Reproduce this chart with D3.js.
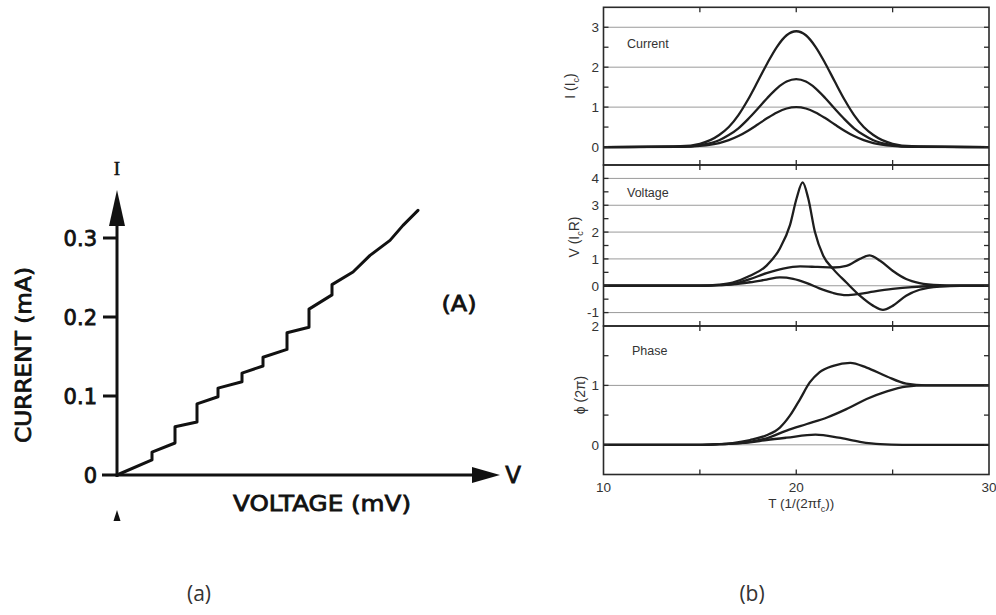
<!DOCTYPE html>
<html>
<head>
<meta charset="utf-8">
<script src="https://cdn.jsdelivr.net/npm/d3@7/dist/d3.min.js"></script>
<style>
  body { margin: 0; background: #fff; }
  svg { display: block; }
</style>
</head>
<body>
<svg id="fig" width="996" height="615"></svg>
<script>
// ---------- (a) stepped current–voltage characteristic ----------
const ivVoltage = [0, 0.35, 0.35, 0.58, 0.58, 0.80, 0.80, 1.01, 1.01, 1.25, 1.25,
                   1.46, 1.46, 1.70, 1.70, 1.92, 1.92, 2.15, 2.15, 2.36, 2.53, 2.73, 2.86, 3.01];
const ivCurrent = [0, 0.019, 0.029, 0.0405, 0.061, 0.067, 0.090, 0.099, 0.110, 0.118, 0.129,
                   0.138, 0.149, 0.159, 0.180, 0.187, 0.210, 0.228, 0.241, 0.257, 0.278, 0.297, 0.316, 0.335];
const ivTicks = [0, 0.1, 0.2, 0.3];
const ivTickLabels = ["0", "0.1", "0.2", "0.3"];

// ---------- (b) pulse response traces: [T, value] ----------
const currentLow = [[10,0],[14,0.006],[15,0.028],[16,0.10],[16.5,0.174],[17,0.276],[17.5,0.41],[18,0.565],
  [18.5,0.725],[19,0.867],[19.5,0.965],[20,1.0],[20.5,0.965],[21,0.867],[21.5,0.725],[22,0.565],
  [22.5,0.41],[23,0.276],[23.5,0.174],[24,0.10],[25,0.028],[26,0.006],[30,0]];
const currentMid = [[10,0],[14,0.01],[15,0.05],[16,0.17],[16.5,0.30],[17,0.47],[17.5,0.70],[18,0.96],
  [18.5,1.23],[19,1.47],[19.5,1.64],[20,1.7],[20.5,1.64],[21,1.47],[21.5,1.23],[22,0.96],
  [22.5,0.70],[23,0.47],[23.5,0.30],[24,0.17],[25,0.05],[26,0.01],[30,0]];
const currentHigh = [[10,0],[14,0.02],[15,0.08],[16,0.30],[16.5,0.50],[17,0.80],[17.5,1.19],[18,1.64],
  [18.5,2.10],[19,2.51],[19.5,2.80],[20,2.9],[20.5,2.80],[21,2.51],[21.5,2.10],[22,1.64],
  [22.5,1.19],[23,0.80],[23.5,0.50],[24,0.30],[25,0.08],[26,0.02],[30,0]];

const voltageLow = [[10,0],[15,0],[16,0.02],[16.7,0.05],[17.6,0.13],[18.46,0.23],[19.15,0.31],[19.84,0.26],
  [20.55,0.1],[21.2,-0.1],[21.92,-0.27],[22.6,-0.35],[23.3,-0.30],[24.0,-0.22],[25.0,-0.12],
  [26.0,-0.05],[27.1,-0.01],[28,0],[30,0]];
const voltageMid = [[10,0],[15,0],[16,0.02],[16.7,0.06],[17.6,0.25],[18.46,0.47],[19.32,0.64],[20.2,0.72],
  [21.1,0.70],[21.92,0.68],[22.6,0.74],[23.3,1.0],[23.8,1.13],[24.35,0.93],[25.0,0.56],[25.7,0.25],
  [26.4,0.1],[27.45,0.02],[28.5,0],[30,0]];
const voltageHigh = [[10,0],[15,0],[16,0.04],[16.7,0.12],[17.6,0.37],[18.46,0.75],[19.15,1.39],[19.67,2.25],
  [20.02,3.26],[20.33,3.85],[20.62,3.26],[20.97,2.0],[21.4,1.12],[21.92,0.62],[22.6,0.12],[23.3,-0.37],
  [24.0,-0.75],[24.5,-0.9],[25.0,-0.75],[25.7,-0.37],[26.4,-0.15],[27.45,-0.03],[28.5,0],[30,0]];

const phaseLow = [[10,0],[15,0],[16,0.01],[17.6,0.04],[18.46,0.08],[19.5,0.12],[21.0,0.17],[22.2,0.12],
  [23.3,0.05],[24.35,0.01],[25.5,0],[30,0]];
const phaseMid = [[10,0],[15,0],[16,0.01],[16.7,0.02],[17.6,0.05],[18.46,0.11],[19.5,0.24],[20.55,0.35],
  [21.6,0.46],[22.6,0.6],[23.65,0.77],[24.7,0.9],[25.7,0.98],[26.75,1.0],[30,1.0]];
const phaseHigh = [[10,0],[15,0],[16,0.01],[16.7,0.03],[17.6,0.08],[18.46,0.16],[19.15,0.29],[19.67,0.49],
  [20.2,0.77],[20.7,1.05],[21.2,1.22],[21.92,1.33],[22.8,1.38],[23.65,1.3],[24.7,1.15],[25.7,1.03],
  [26.75,1.0],[30,1.0]];

const timeTicks = [10, 15, 20, 25, 30];
const timeTickLabels = ["10", "", "20", "", "30"];
const currentTicks = [0, 1, 2, 3];
const voltageTicks = [-1, 0, 1, 2, 3, 4];
const phaseTicks = [0, 1, 2];

const svg = d3.select("#fig");

// ================= (a) =================
const gA = svg.append("g");
const xA = d3.scaleLinear().domain([0, 3.83]).range([117, 500]);
const yA = d3.scaleLinear().domain([0, 0.3]).range([475, 238]);
const ink = "#111";

// axes with arrow heads
gA.append("line").attr("x1", 102).attr("x2", xA(3.83) - 24)
  .attr("y1", yA(0)).attr("y2", yA(0)).attr("stroke", ink).attr("stroke-width", 3);
gA.append("path")
  .attr("d", `M${xA(3.83)},${yA(0)} L${xA(3.83) - 28},${yA(0) - 8} L${xA(3.83) - 28},${yA(0) + 8} Z`)
  .attr("fill", ink);
gA.append("line").attr("x1", xA(0)).attr("x2", xA(0))
  .attr("y1", yA(0) + 2).attr("y2", 222).attr("stroke", ink).attr("stroke-width", 3);
gA.append("path")
  .attr("d", `M${xA(0)},190 L${xA(0) - 8},226 L${xA(0) + 8},226 Z`).attr("fill", ink);
// small arrow below the origin
gA.append("path")
  .attr("d", `M${xA(0)},510 L${xA(0) - 3.5},521 L${xA(0) + 3.5},521 Z`).attr("fill", ink);

// y ticks
gA.selectAll(".ytick").data(ivTicks.filter(d => d > 0)).join("line")
  .attr("x1", 103).attr("x2", xA(0)).attr("y1", d => yA(d)).attr("y2", d => yA(d))
  .attr("stroke", ink).attr("stroke-width", 3);
gA.selectAll(".ylab").data(ivTicks).join("text")
  .attr("x", 97).attr("y", d => yA(d)).attr("dy", "0.36em")
  .attr("text-anchor", "end")
  .attr("font-family", "DejaVu Sans").attr("font-size", 21)
  .attr("fill", ink).attr("stroke", ink).attr("stroke-width", 0.8)
  .text((d, i) => ivTickLabels[i]);

// data curve
gA.append("path")
  .attr("d", d3.line().x((d, i) => xA(ivVoltage[i])).y(d => yA(d))(ivCurrent))
  .attr("fill", "none").attr("stroke", ink).attr("stroke-width", 3)
  .attr("stroke-linejoin", "round").attr("stroke-linecap", "round");

const labA = (txt, x, y, size, len, extra) => {
  const t = gA.append("text").attr("x", x).attr("y", y)
    .attr("font-family", "DejaVu Sans").attr("font-size", size)
    .attr("fill", ink).attr("stroke", ink).attr("stroke-width", 0.8)
    .attr("text-anchor", "middle").attr("dy", "0.36em").text(txt);
  if (len) t.attr("textLength", len).attr("lengthAdjust", "spacingAndGlyphs");
  if (extra) extra(t);
  return t;
};
labA("VOLTAGE (mV)", 322, 503, 22, 178);
labA("CURRENT (mA)", 23, 355, 22, 176, t => t.attr("transform", "rotate(-90,23,355)"));
labA("(A)", 459, 303, 22, 35);
labA("V", 513, 475, 23, null);
gA.append("text").attr("x", xA(0)).attr("y", 168).attr("dy", "0.36em")
  .attr("text-anchor", "middle").attr("font-family", "Liberation Serif")
  .attr("font-size", 19).attr("fill", ink).attr("stroke", ink).attr("stroke-width", 0.5).text("I");

// ================= (b) =================
const gB = svg.append("g");
const xB = d3.scaleLinear().domain([10, 30]).range([603.5, 989]);
const frame = "#2a2a2a";
const traceColor = "#1e1e1e";
const lab = "#333";
const font = "Liberation Sans";

const panels = [
  { domain: [-0.45, 3.5], top: 7.3, bottom: 165, ticks: currentTicks, minor: 0.5,
    series: [currentLow, currentMid, currentHigh], name: "Current", nameX: 627, nameY: 43,
    title: ["I (I", "c", ")"], titleX: 570, titleY: 86 },
  { domain: [-1.5, 4.5], top: 165, bottom: 326, ticks: voltageTicks, minor: 0.5,
    series: [voltageLow, voltageMid, voltageHigh], name: "Voltage", nameX: 627, nameY: 192,
    title: ["V (I", "c", "R)"], titleX: 574, titleY: 237 },
  { domain: [-0.5, 2], top: 326, bottom: 474.5, ticks: phaseTicks, minor: 0.5,
    series: [phaseLow, phaseMid, phaseHigh], name: "Phase", nameX: 632, nameY: 350,
    title: ["\u03D5 (2\u03C0)", "", ""], titleX: 580, titleY: 395 }
];

const x0 = xB.range()[0], x1 = xB.range()[1];

panels.forEach(p => {
  const y = d3.scaleLinear().domain(p.domain).range([p.bottom, p.top]);
  const g = gB.append("g");

  // horizontal grid at labelled values
  g.selectAll(".grid").data(p.ticks.filter(v => y(v) > p.top + 1 && y(v) < p.bottom - 1)).join("line")
    .attr("x1", x0).attr("x2", x1).attr("y1", d => y(d)).attr("y2", d => y(d))
    .attr("stroke", "#9a9a9a").attr("stroke-width", 1);

  // traces
  const line = d3.line().x(d => xB(d[0])).y(d => y(d[1])).curve(d3.curveMonotoneX);
  g.selectAll(".trace").data(p.series).join("path")
    .attr("d", line).attr("fill", "none")
    .attr("stroke", traceColor).attr("stroke-width", 2.3);

  // frame
  g.append("rect").attr("x", x0).attr("y", p.top).attr("width", x1 - x0).attr("height", p.bottom - p.top)
    .attr("fill", "none").attr("stroke", frame).attr("stroke-width", 1.6);

  // inward y ticks (major + half steps) on both sides
  const yTickVals = d3.range(Math.ceil(p.domain[0] / p.minor), Math.floor(p.domain[1] / p.minor) + 1)
    .map(k => k * p.minor).filter(v => y(v) > p.top + 1 && y(v) < p.bottom - 1);
  yTickVals.forEach(v => {
    g.append("line").attr("x1", x0).attr("x2", x0 + 5).attr("y1", y(v)).attr("y2", y(v))
      .attr("stroke", frame).attr("stroke-width", 1.3);
    g.append("line").attr("x1", x1 - 5).attr("x2", x1).attr("y1", y(v)).attr("y2", y(v))
      .attr("stroke", frame).attr("stroke-width", 1.3);
  });
  // inward x ticks top and bottom
  timeTicks.filter(t => t > 10 && t < 30).forEach(t => {
    g.append("line").attr("x1", xB(t)).attr("x2", xB(t)).attr("y1", p.top).attr("y2", p.top + 5)
      .attr("stroke", frame).attr("stroke-width", 1.3);
    g.append("line").attr("x1", xB(t)).attr("x2", xB(t)).attr("y1", p.bottom - 5).attr("y2", p.bottom)
      .attr("stroke", frame).attr("stroke-width", 1.3);
  });

  // y tick labels
  g.selectAll(".ylab").data(p.ticks).join("text")
    .attr("x", 599).attr("y", d => y(d)).attr("dy", "0.36em")
    .attr("text-anchor", "end").attr("font-family", font).attr("font-size", 13.5)
    .attr("fill", lab).text(d => d3.format("d")(d).replace("\u2212", "-"));

  // panel name
  g.append("text").attr("x", p.nameX).attr("y", p.nameY).attr("dy", "0.36em")
    .attr("font-family", font).attr("font-size", 12.5).attr("fill", lab).text(p.name);

  // rotated axis title with subscript
  const tt = g.append("text")
    .attr("transform", `translate(${p.titleX},${p.titleY}) rotate(-90)`)
    .attr("text-anchor", "middle").attr("dy", "0.36em")
    .attr("font-family", font).attr("font-size", 14).attr("fill", lab);
  tt.append("tspan").text(p.title[0]);
  if (p.title[1]) {
    tt.append("tspan").attr("font-size", 9).attr("dy", 4).text(p.title[1]);
    tt.append("tspan").attr("dy", -4).text(p.title[2]);
  }
});

// x tick labels and title under the bottom panel
gB.selectAll(".xlab").data(timeTicks).join("text")
  .attr("x", d => xB(d)).attr("y", 487).attr("dy", "0.36em")
  .attr("text-anchor", "middle").attr("font-family", font).attr("font-size", 13.5)
  .attr("fill", lab).text((d, i) => timeTickLabels[i]);
const xt = gB.append("text").attr("x", xB(20) + 5).attr("y", 508)
  .attr("text-anchor", "middle").attr("font-family", font).attr("font-size", 13.5).attr("fill", lab);
xt.append("tspan").text("T (1/(2\u03C0f");
xt.append("tspan").attr("font-size", 9).attr("dy", 4).text("c");
xt.append("tspan").attr("dy", -4).text("))");

// ---------- sub-figure captions ----------
svg.selectAll(".cap").data([["(a)", 199], ["(b)", 752]]).join("text")
  .attr("x", d => d[1]).attr("y", 593).attr("dy", "0.36em")
  .attr("text-anchor", "middle").attr("font-family", "Open Sans")
  .attr("font-size", 21).attr("fill", "#333").text(d => d[0]);
</script>
</body>
</html>
